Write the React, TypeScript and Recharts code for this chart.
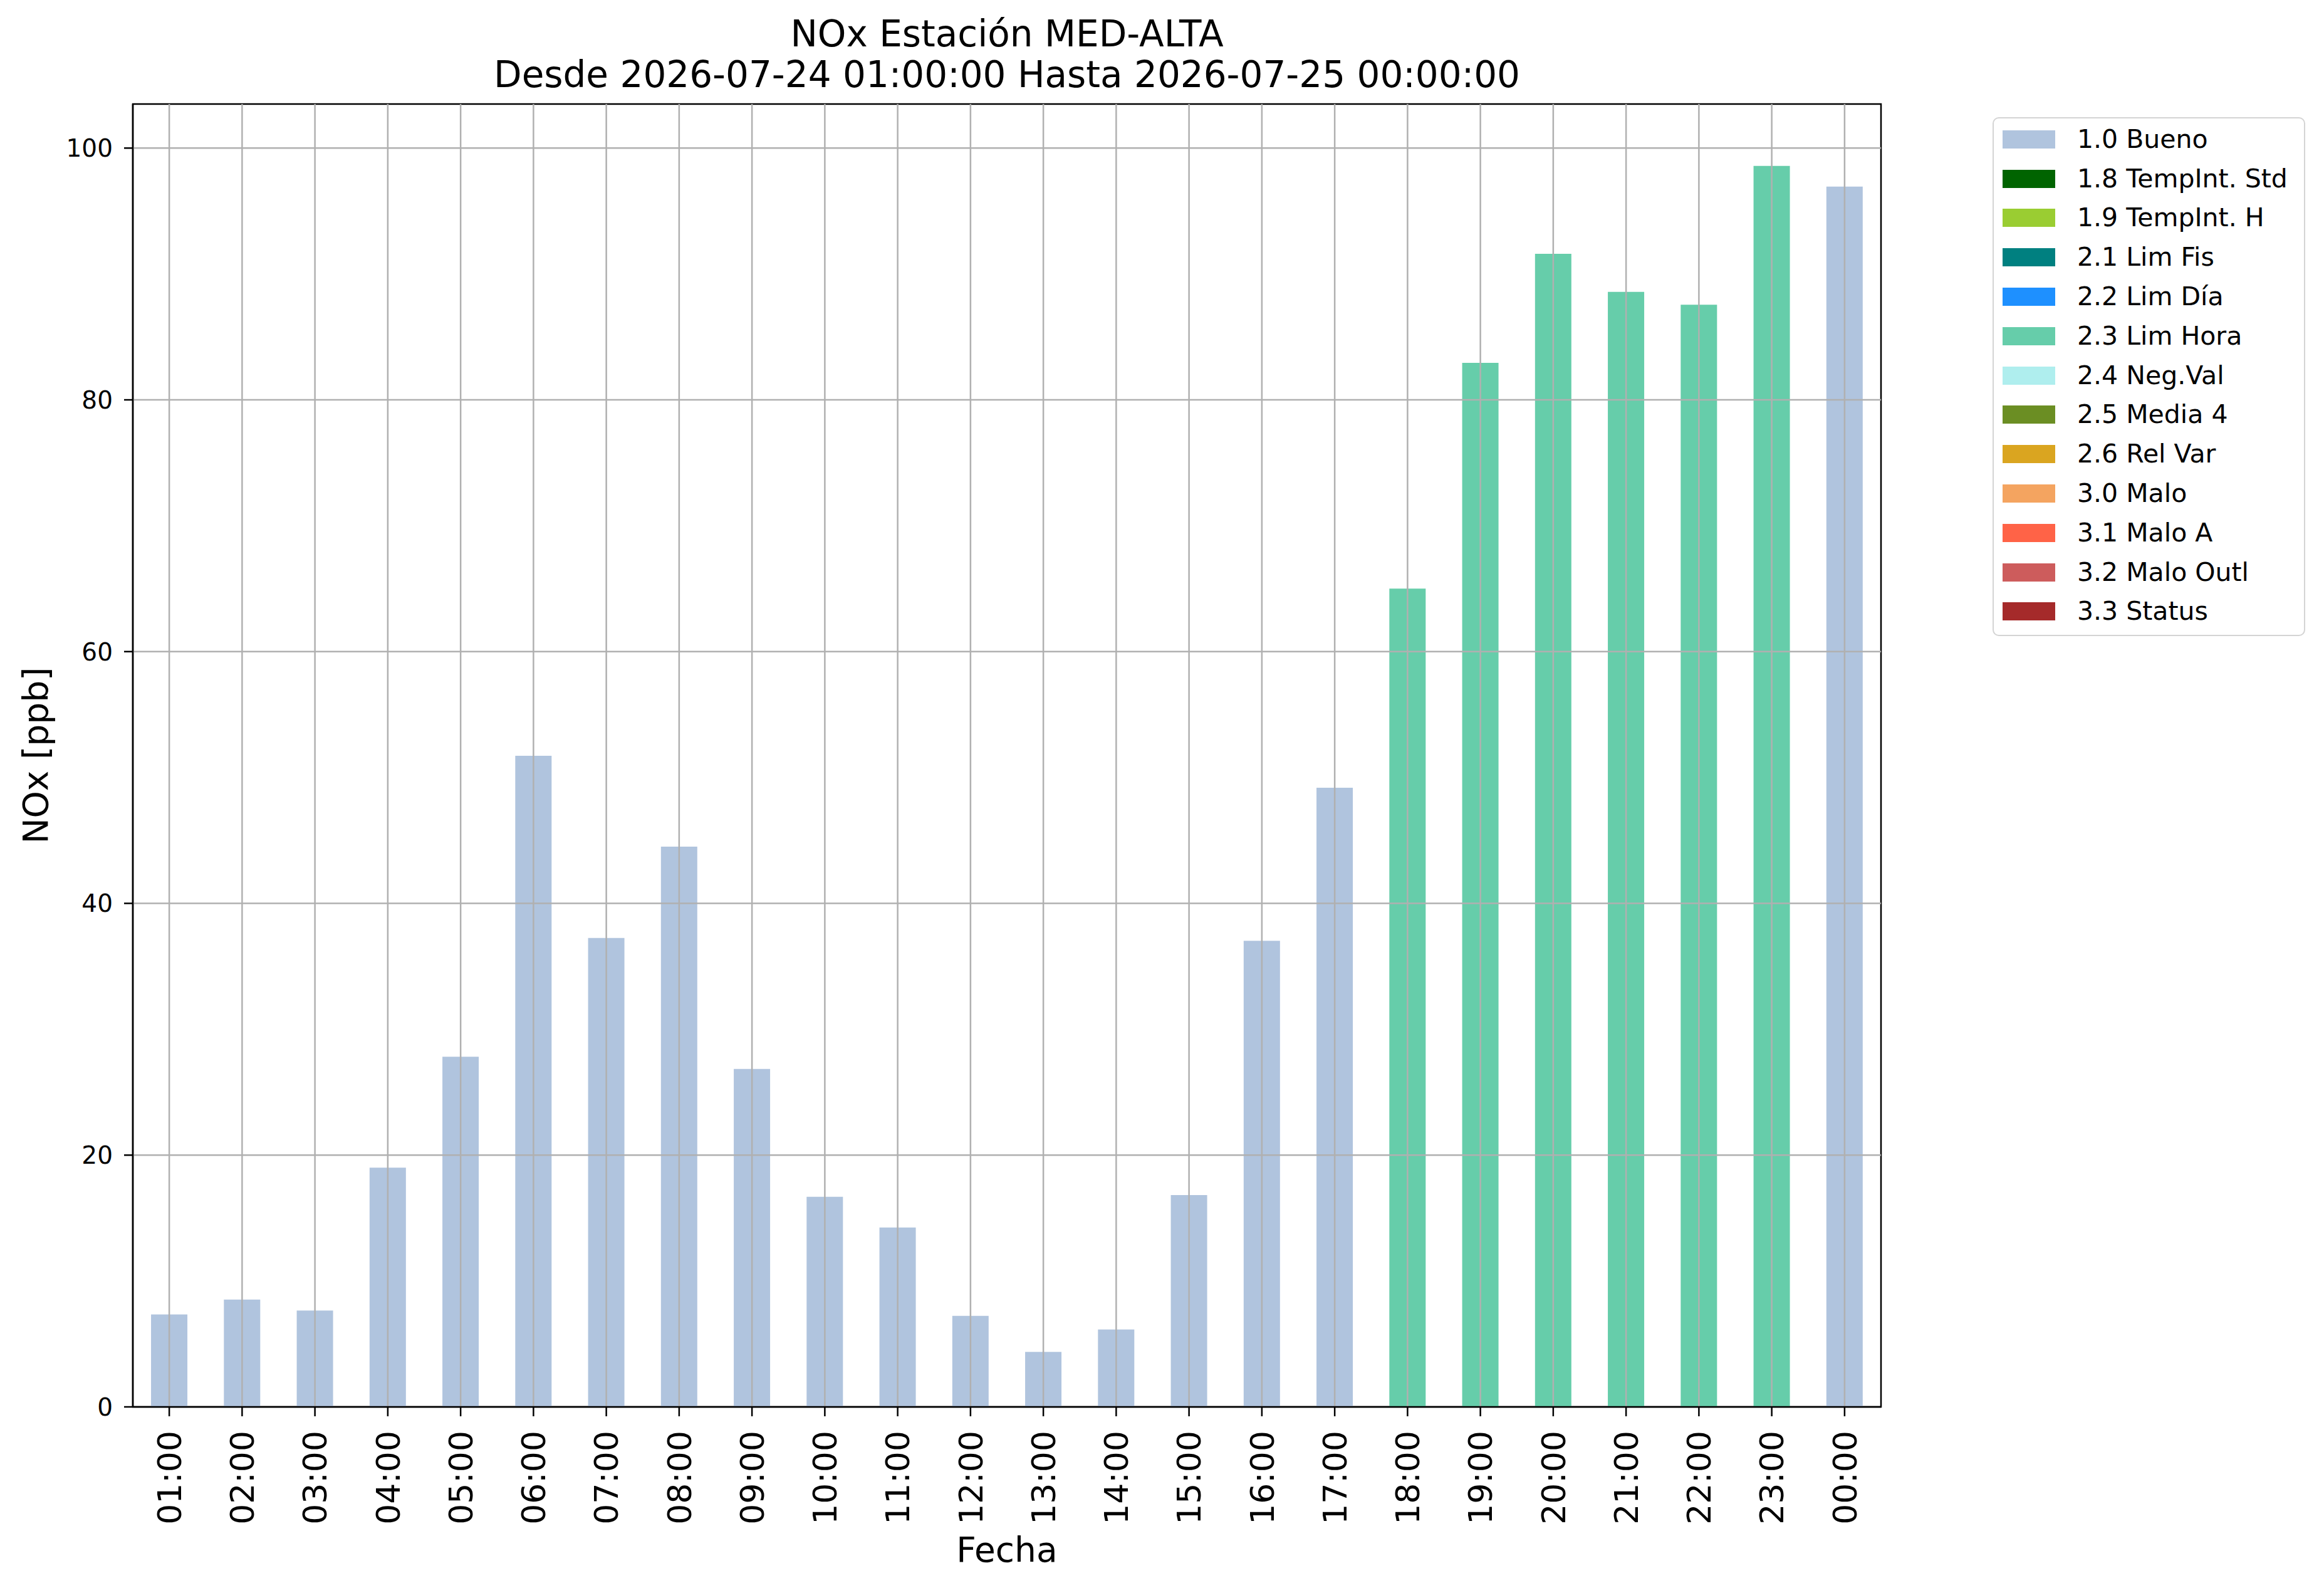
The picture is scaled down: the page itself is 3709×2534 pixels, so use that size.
import React from 'react';
import { BarChart, Bar, XAxis, YAxis, Legend, Label, ReferenceLine, ReferenceArea } from 'recharts';

// hourly NOx values (ppb)
const HOURS = [
  '01:00', '02:00', '03:00', '04:00', '05:00', '06:00', '07:00', '08:00',
  '09:00', '10:00', '11:00', '12:00', '13:00', '14:00', '15:00', '16:00',
  '17:00', '18:00', '19:00', '20:00', '21:00', '22:00', '23:00', '00:00',
];
const NOX = [
  7.34, 8.52, 7.65, 19.0, 27.82, 51.73, 37.25, 44.51,
  26.85, 16.69, 14.25, 7.23, 4.37, 6.15, 16.83, 37.03,
  49.18, 65.0, 82.94, 91.6, 88.58, 87.56, 98.59, 96.94,
];
// validation flag index (into FLAG_NAMES) for each hour
const HOUR_FLAG = [
  0, 0, 0, 0, 0, 0, 0, 0,
  0, 0, 0, 0, 0, 0, 0, 0,
  0, 5, 5, 5, 5, 5, 5, 0,
];
const FLAG_NAMES = [
  '1.0 Bueno', '1.8 TempInt. Std', '1.9 TempInt. H', '2.1 Lim Fis', '2.2 Lim Día',
  '2.3 Lim Hora', '2.4 Neg.Val', '2.5 Media 4', '2.6 Rel Var', '3.0 Malo',
  '3.1 Malo A', '3.2 Malo Outl', '3.3 Status',
];
const FLAG_COLORS = [
  '#b0c4de', '#006400', '#9acd32', '#008080', '#1e90ff',
  '#66cdaa', '#afeeee', '#6b8e23', '#daa520', '#f4a460',
  '#ff6347', '#cd5c5c', '#a52a2a',
];
const Y_TICKS = [0, 20, 40, 60, 80, 100];
const Y_MAX = 103.5;

const TITLE_1 = 'NOx Estación MED-ALTA';
const TITLE_2 = 'Desde 2026-07-24 01:00:00 Hasta 2026-07-25 00:00:00';

// one row per hour, one column per flag (keys f0..f12 — names contain dots)
const rows = HOURS.map((hour, i) => {
  const row: any = { hour };
  FLAG_NAMES.forEach((_, k) => {
    row['f' + k] = HOUR_FLAG[i] === k ? NOX[i] : 0;
  });
  return row;
});

const FONT = '"DejaVu Sans", Verdana, sans-serif';
const W = 3709;
const H = 2534;
const YAXIS_W = 170;
const XAXIS_H = 200;
const GRID = { stroke: '#b0b0b0', strokeWidth: 2.5 };

const XTick = ({ x, y, payload }: any) => (
  <text
    x={x}
    y={y}
    dy="0.36em"
    textAnchor="end"
    fontSize={52}
    fontFamily={FONT}
    fill="#000"
    transform={`rotate(-90 ${x} ${y})`}
  >
    {payload.value}
  </text>
);

const LegendBox = ({ payload }: any) => (
  <div style={{
    position: 'relative',
    width: 499,
    height: 828,
    boxSizing: 'border-box',
    border: '2.5px solid #d4d4d4',
    borderRadius: 10,
    background: 'white',
    fontFamily: FONT,
  }}>
    {(payload || []).map((entry: any, i: number) => (
      <div key={i} style={{
        position: 'absolute',
        left: 14,
        top: 2 + i * 62.8,
        height: 62.8,
        display: 'flex',
        alignItems: 'center',
        whiteSpace: 'nowrap',
      }}>
        <div style={{ width: 84, height: 29, background: entry.color }} />
        <span style={{ marginLeft: 35, fontSize: 41, color: '#000', lineHeight: 1 }}>{entry.value}</span>
      </div>
    ))}
  </div>
);

export default function App() {
  return (
    <div style={{ position: 'absolute', left: 0, top: 0, width: W, height: H, background: 'white', fontFamily: FONT }}>
      <div style={{
        position: 'absolute', left: 0, top: 22, width: 3214, textAlign: 'center',
        fontSize: 58, lineHeight: '65px', color: '#000',
      }}>
        <div>{TITLE_1}</div>
        <div>{TITLE_2}</div>
      </div>
      <BarChart
        width={W}
        height={H}
        data={rows}
        margin={{ top: 166, right: W - 3002, left: 212 - YAXIS_W, bottom: H - 2245 - XAXIS_H }}
        barCategoryGap="25%"
        style={{ fontFamily: FONT }}
      >
        {FLAG_NAMES.map((name, k) => (
          <Bar
            key={name}
            dataKey={'f' + k}
            name={name}
            stackId="flags"
            fill={FLAG_COLORS[k]}
            legendType="rect"
            isAnimationActive={false}
          />
        ))}
        {/* matplotlib draws the grid above the bars */}
        {HOURS.map((h) => (
          <ReferenceLine key={'gx' + h} x={h} {...GRID} />
        ))}
        {Y_TICKS.filter((t) => t > 0).map((t) => (
          <ReferenceLine key={'gy' + t} y={t} {...GRID} />
        ))}
        <ReferenceArea
          x1={HOURS[0]}
          x2={HOURS[HOURS.length - 1]}
          y1={0}
          y2={Y_MAX}
          fill="none"
          fillOpacity={0}
          stroke="#000"
          strokeWidth={2.5}
          strokeOpacity={1}
        />
        <XAxis
          dataKey="hour"
          interval={0}
          height={XAXIS_H}
          tickSize={15}
          tickMargin={23}
          tick={<XTick />}
          tickLine={{ stroke: '#000', strokeWidth: 2.5 }}
          axisLine={{ stroke: '#000', strokeWidth: 2.5 }}
        >
          <Label
            content={({ viewBox }: any) => (
              <text
                x={viewBox.x + viewBox.width / 2}
                y={viewBox.y + 247}
                textAnchor="middle"
                fontSize={55}
                fontFamily={FONT}
                fill="#000"
              >
                Fecha
              </text>
            )}
          />
        </XAxis>
        <YAxis
          width={YAXIS_W}
          domain={[0, Y_MAX]}
          ticks={Y_TICKS}
          interval={0}
          tickSize={14}
          tickMargin={18}
          tick={{ fontSize: 39, fill: '#000', fontFamily: FONT }}
          tickLine={{ stroke: '#000', strokeWidth: 2.5 }}
          axisLine={{ stroke: '#000', strokeWidth: 2.5 }}
        >
          <Label
            content={({ viewBox }: any) => {
              const cx = viewBox.x + 15;
              const cy = viewBox.y + viewBox.height / 2;
              return (
                <text
                  x={cx}
                  y={cy}
                  dy="0.35em"
                  textAnchor="middle"
                  fontSize={55}
                  fontFamily={FONT}
                  fill="#000"
                  transform={`rotate(-90 ${cx} ${cy})`}
                >
                  NOx [ppb]
                </text>
              );
            }}
          />
        </YAxis>
        <Legend
          layout="horizontal"
          align="center"
          verticalAlign="middle"
          content={<LegendBox />}
          wrapperStyle={{ position: 'absolute', left: 3180, top: 187, width: 499, height: 828 }}
        />
      </BarChart>
    </div>
  );
}
